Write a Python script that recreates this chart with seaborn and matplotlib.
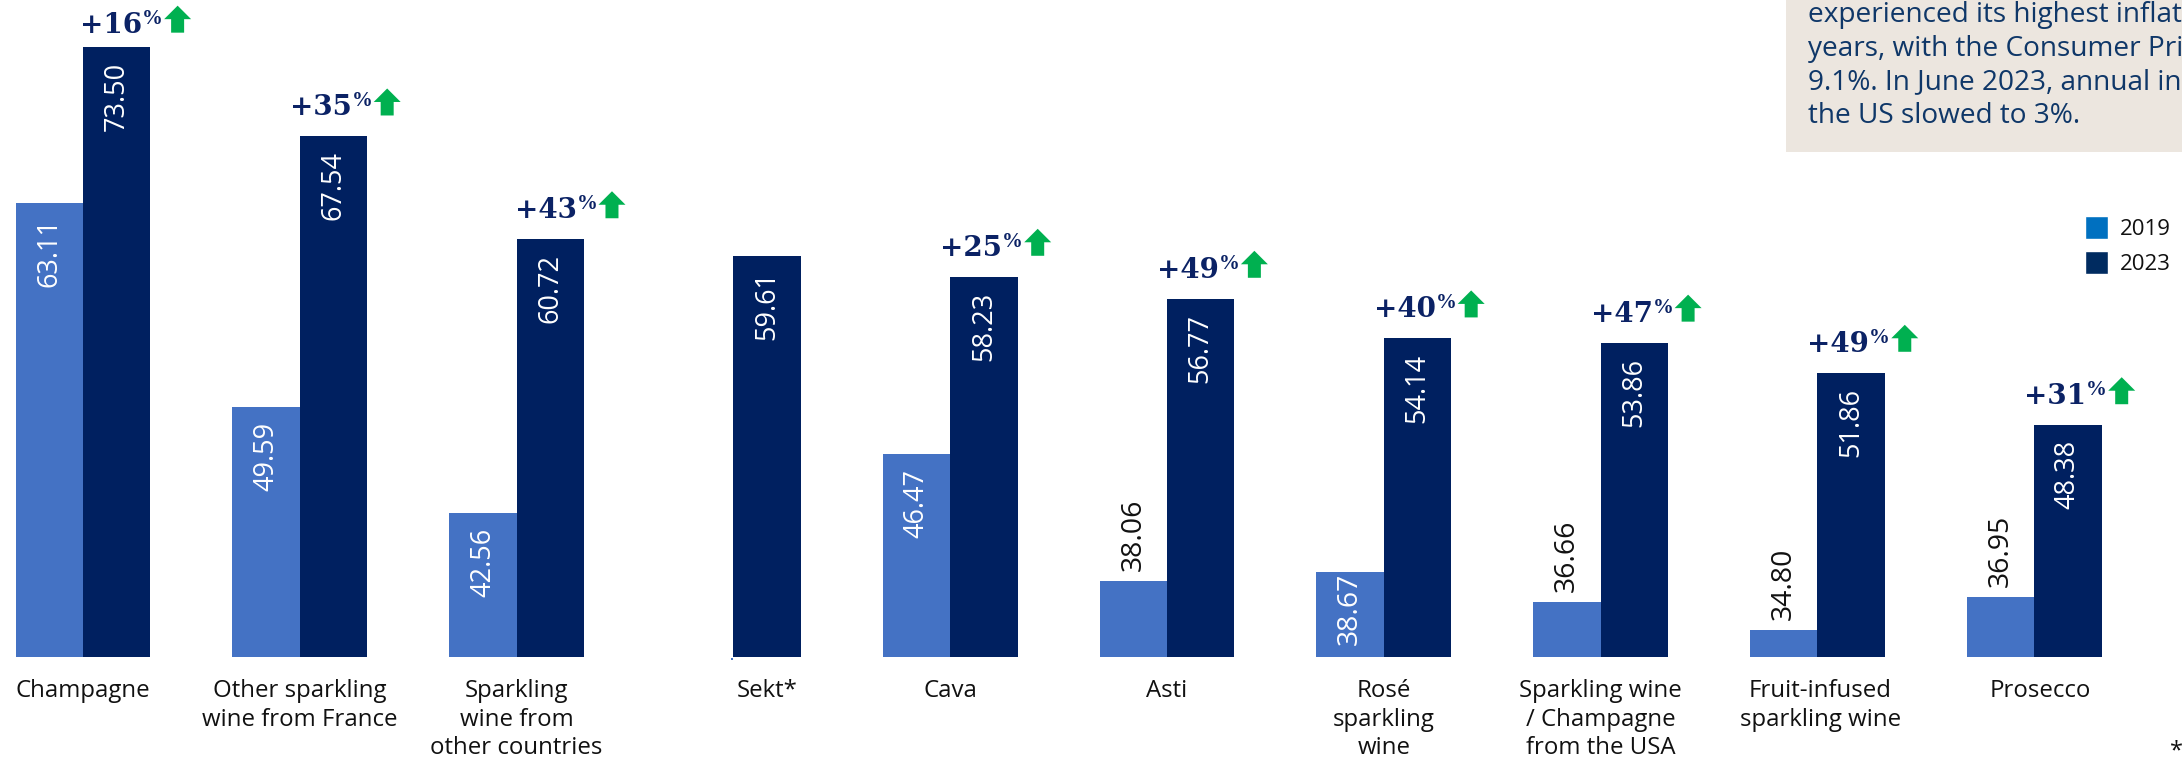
import numpy as np
import pandas as pd
import matplotlib
matplotlib.use("Agg")
import matplotlib.pyplot as plt
from matplotlib.patches import Patch, Polygon, Rectangle
from matplotlib.transforms import IdentityTransform
import seaborn as sns

categories = ["Champagne", "Other sparkling\nwine from France", "Sparkling\nwine from\nother countries",
              "Sekt*", "Cava", "Asti", "Rosé\nsparkling\nwine", "Sparkling wine\n/ Champagne\nfrom the USA",
              "Fruit-infused\nsparkling wine", "Prosecco"]
values_2019 = [63.11, 49.59, 42.56, np.nan, 46.47, 38.06, 38.67, 36.66, 34.80, 36.95]
values_2023 = [73.50, 67.54, 60.72, 59.61, 58.23, 56.77, 54.14, 53.86, 51.86, 48.38]
changes = ["+16", "+35", "+43", None, "+25", "+49", "+40", "+47", "+49", "+31"]
note_lines = ["experienced its highest inflat", "years, with the Consumer Pri",
              "9.1%. In June 2023, annual in", "the US slowed to 3%."]

C19, C23 = "#4472C4", "#002060"
W, H = 2182, 759
sns.set_theme(style="white")
plt.rcParams["font.family"] = ["Open Sans", "DejaVu Sans"]

df = pd.DataFrame({"category": categories * 2,
                   "year": ["2019"] * 10 + ["2023"] * 10,
                   "price": values_2019 + values_2023})

fig = plt.figure(figsize=(W / 100, H / 100), dpi=100)
fig.patch.set_facecolor("white")
base_px = 657
ax = fig.add_axes([0, (H - base_px) / H, 1, base_px / H])
sns.barplot(data=df, x="category", y="price", hue="year", order=categories, hue_order=["2019", "2023"],
            palette={"2019": C19, "2023": C23}, width=0.621, gap=0, saturation=1, linewidth=0,
            legend=False, ax=ax, errorbar=None)
px_per_cat = 216.8
ax.set_xlim(-83 / px_per_cat, (W - 83) / px_per_cat)
v0, slope = 33.0, 15.07
ax.set_ylim(v0, v0 + base_px / slope)
ax.set_facecolor("none")
sns.despine(ax=ax, left=True, bottom=True, top=True, right=True)
ax.set_xlabel(""); ax.set_ylabel(""); ax.set_yticks([])

bars = {}
for cont, yr in zip(ax.containers, ["2019", "2023"]):
    for p in cont:
        if np.isnan(p.get_height()) or p.get_height() == 0:
            continue
        bars[(int(round(p.get_x() + p.get_width() / 2)), yr)] = p

# tick labels
ticks = [float(i) for i in range(10)]
b = bars[(3, "2023")]
ticks[3] = b.get_x() + b.get_width() / 2
ticks[8] += 3 / px_per_cat
ticks[9] += 6 / px_per_cat
ax.set_xticks(ticks)
ax.set_xticklabels(categories, fontsize=17.3, color="#111111", linespacing=1.24)
ax.tick_params(axis="x", length=0, pad=16)

PX = 0.72  # points per pixel at 100 dpi
for (i, yr), p in bars.items():
    v = p.get_height()
    cx = p.get_x() + p.get_width() / 2
    fs = 19.5
    if yr == "2019" and v < 38.5:
        off, va, col, fs = 10, "bottom", "#111111", 20.4
    elif yr == "2019" and v < 39:
        off, va, col, fs = -1, "top", "white", 20.4
    else:
        off, va, col = -15, "top", "white"
    ax.annotate(f"{v:.2f}", xy=(cx, v), xytext=(0, off * PX), textcoords="offset points",
                rotation=90, ha="center", va=va, fontsize=fs, color=col, annotation_clip=False)

# change labels with arrows
fig.canvas.draw()
rend = fig.canvas.get_renderer()
NAVY = "#0B2265"
for i, txt in enumerate(changes):
    if txt is None:
        continue
    p = bars[(i, "2023")]
    dy = 14 if i == 0 else 21
    dx = {0: -3, 2: -2}.get(i, -10)
    t = ax.annotate(txt, xy=(p.get_x(), p.get_height()), xytext=(dx * PX, dy * PX), textcoords="offset points",
                    ha="left", va="baseline", fontsize=20, fontweight="bold",
                    family="DejaVu Serif", color=NAVY, annotation_clip=False)
    e = t.get_window_extent(rend)
    y_base = ax.transData.transform((0, p.get_height()))[1] + dy
    fig.text((e.x1 + 0) / W, (y_base + 9) / H, "%", fontsize=15, fontweight="bold", family="Liberation Serif",
             color=NAVY, ha="left", va="baseline")
    a0 = e.x1 + 22
    a1, s0, s1 = a0 + 27, a0 + 7, a0 + 20
    y0, yh, y1 = y_base, y_base + 13.5, y_base + 27
    fig.add_artist(Polygon([(s0, y0), (s1, y0), (s1, yh), (a1, yh), ((a0 + a1) / 2, y1), (a0, yh), (s0, yh)],
                           closed=True, facecolor="#00B050", edgecolor="none", transform=IdentityTransform()))

# note box
fig.add_artist(Rectangle((1786 / W, (H - 152) / H), (W - 1786) / W, 152 / H, transform=fig.transFigure,
                         facecolor="#ECE6DF", edgecolor="none", zorder=0))
for k, line in enumerate(note_lines):
    fig.text(1808 / W, (H - (22 + k * 33.6)) / H, line, fontsize=20.2, color="#0F3768", ha="left", va="baseline")

# small mark in the empty 2019 Sekt slot
ax.plot([b.get_x() - 1.5 / px_per_cat], [v0 - 2 / slope], marker="s", ms=2, mew=0, color=C19, clip_on=False, ls="none")

# legend
ax.legend(handles=[Patch(facecolor="#0070C0", label="2019"), Patch(facecolor="#002B60", label="2023")],
          loc="upper left", bbox_to_anchor=(2085 / W, (H - 216) / H), bbox_transform=fig.transFigure,
          frameon=False, fontsize=16, handlelength=1.03, handleheight=1.2, handletextpad=0.55,
          labelspacing=0.5, borderpad=0, borderaxespad=0, labelcolor="#111111")

fig.text(2170 / W, (H - 751) / H, "*", fontsize=17, color="#111111", ha="left", va="center")

fig.savefig("out.png", dpi=100)
